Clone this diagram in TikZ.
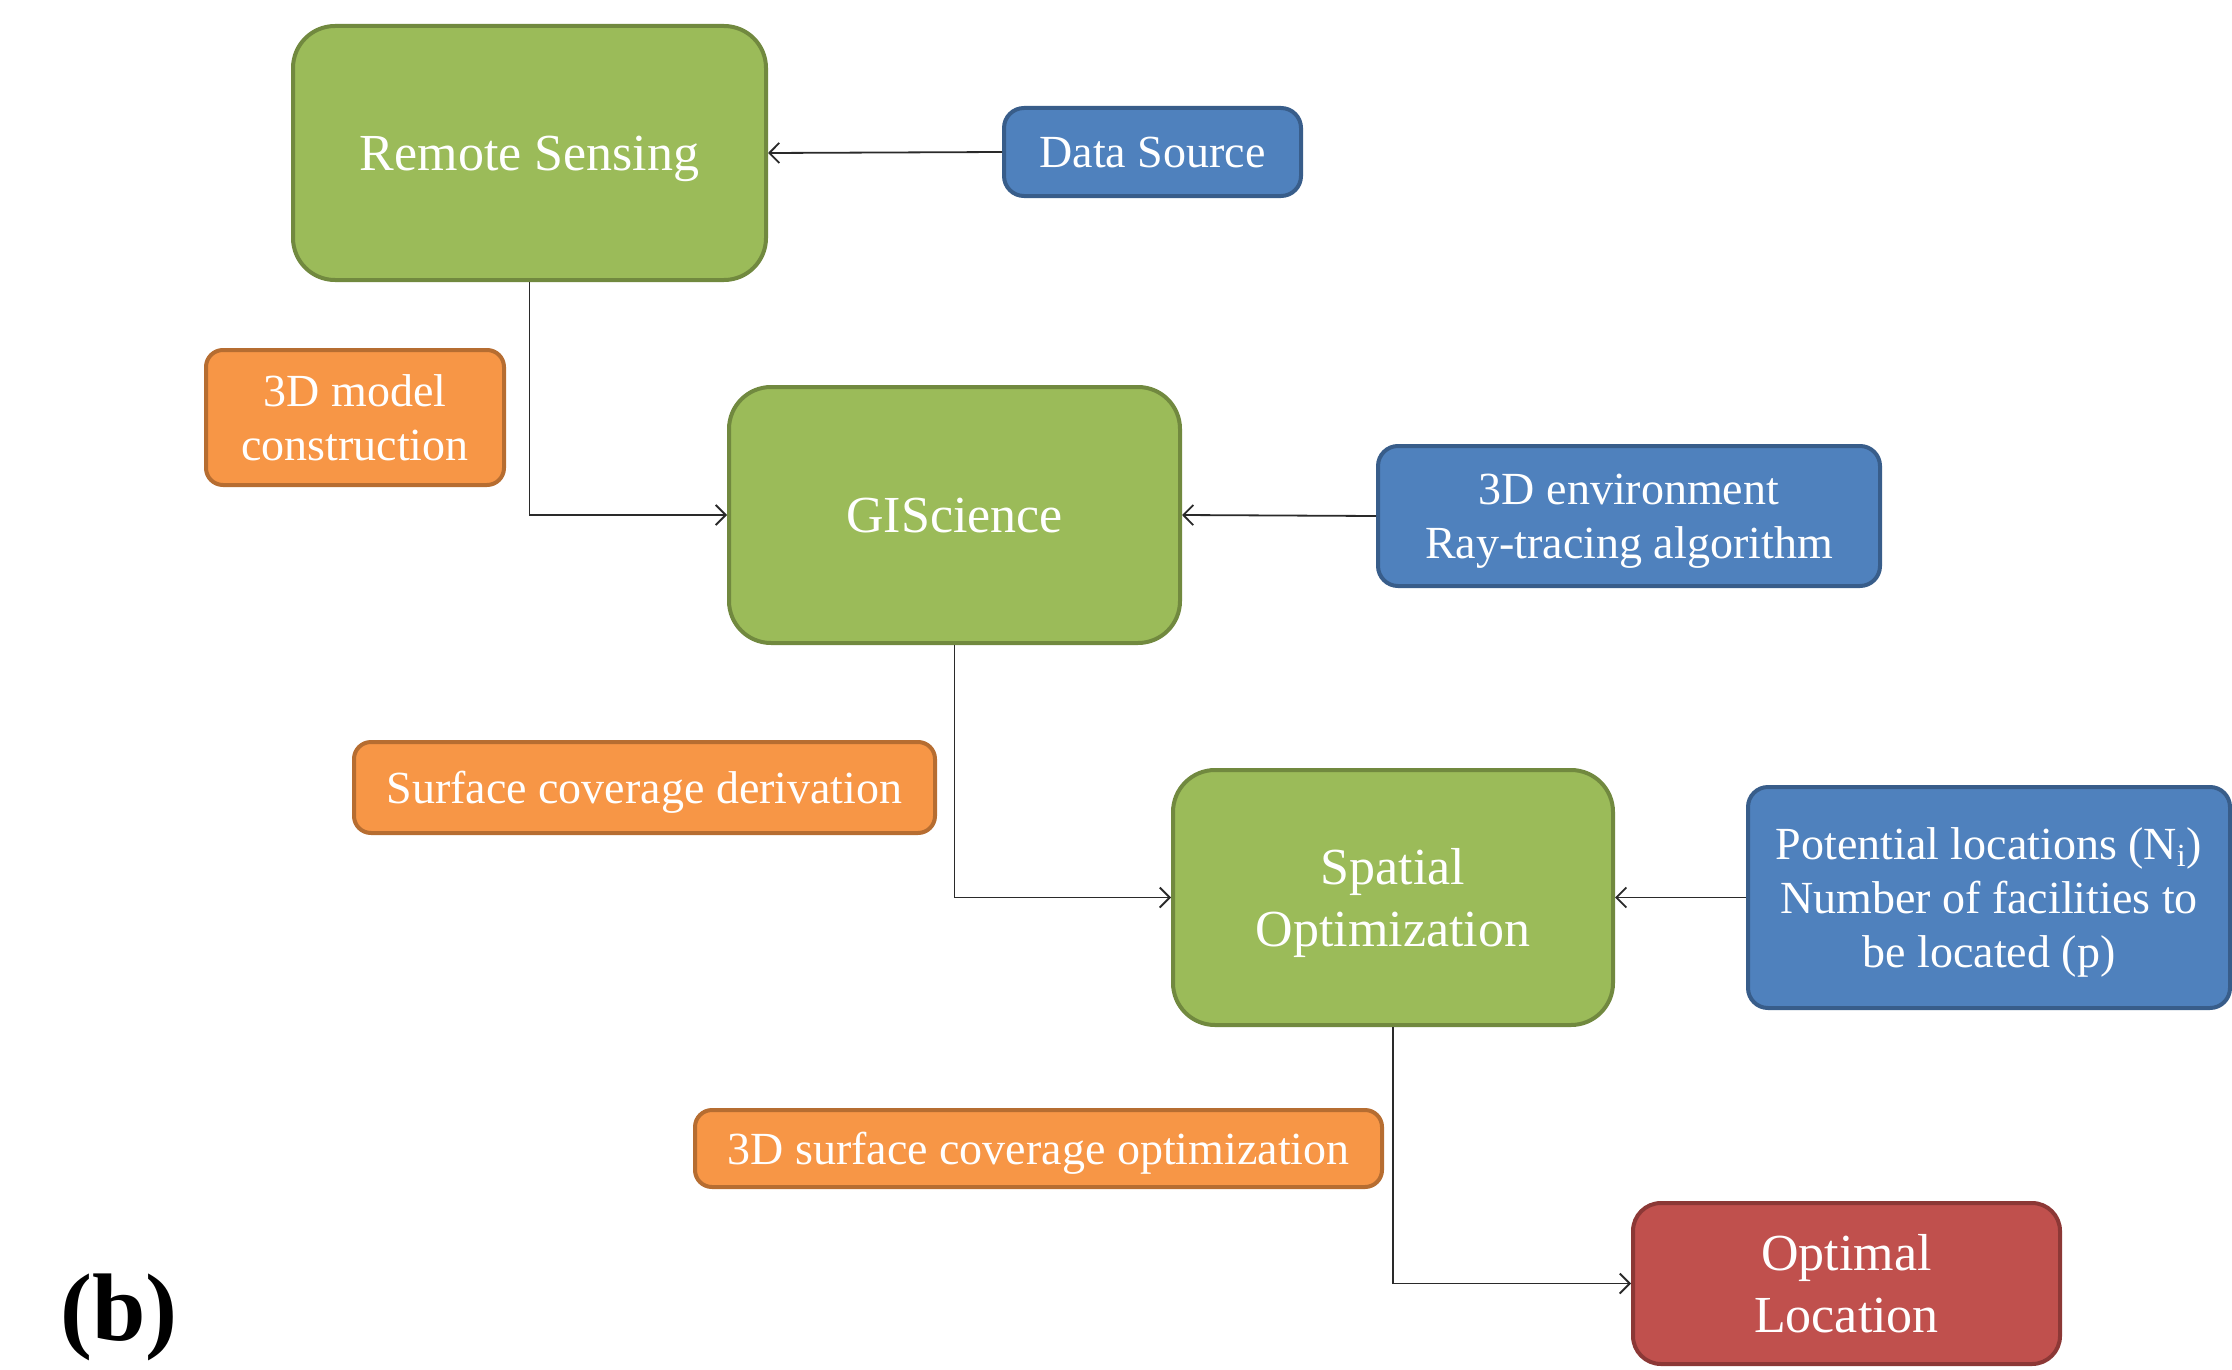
\documentclass[tikz,border=0pt]{standalone}
\usepackage{fontspec}
\setmainfont{Liberation Serif}
\usetikzlibrary{arrows.meta}
\definecolor{gfill}{HTML}{9BBB59}
\definecolor{gdraw}{HTML}{71893F}
\definecolor{bfill}{HTML}{4F81BD}
\definecolor{bdraw}{HTML}{385D8A}
\definecolor{ofill}{HTML}{F79646}
\definecolor{odraw}{HTML}{B66D31}
\definecolor{rfill}{HTML}{C0504D}
\definecolor{rdraw}{HTML}{8C3836}
\definecolor{conn}{HTML}{2A2A2A}
\tikzset{
  box/.style={rectangle, inner sep=0pt, line width=2pt, align=center, text=white, text depth=0pt},
  greenbox/.style={box, fill=gfill, draw=gdraw, rounded corners=21pt, font=\fontsize{26}{31}\selectfont},
  bluebox/.style={box, fill=bfill, draw=bdraw, rounded corners=10pt, font=\fontsize{23}{27}\selectfont},
  orangebox/.style={box, fill=ofill, draw=odraw, rounded corners=8.5pt, font=\fontsize{23}{27}\selectfont},
  redbox/.style={box, fill=rfill, draw=rdraw, rounded corners=14pt, font=\fontsize{26}{31}\selectfont},
  link/.style={draw=conn, line width=0.9pt, -{Straight Barb[length=5pt,width=10pt]}}
}
\begin{document}
\begin{tikzpicture}[x=0.5pt,y=-0.5pt]
\useasboundingbox (0,0) rectangle (2232,1370);
\node[greenbox, minimum width=236.5pt, minimum height=127pt] (rs) at (529.5,153) {Remote Sensing};
\node[bluebox, minimum width=148.5pt, minimum height=44pt] (ds) at (1152.5,152) {Data Source};
\node[orangebox, minimum width=149pt, minimum height=67.5pt] (mc) at (355,417.5) {3D model\\construction};
\node[greenbox, minimum width=225.5pt, minimum height=128pt] (gis) at (954.5,515) {GIScience};
\node[bluebox, minimum width=251pt, minimum height=70pt] (env) at (1629,516) {3D environment\\Ray-tracing algorithm};
\node[orangebox, minimum width=290.5pt, minimum height=45.5pt] (scd) at (644.5,787.5) {Surface coverage derivation};
\node[greenbox, minimum width=220pt, minimum height=127.5pt] (so) at (1393,897.5) {Spatial\\Optimization};
\node[bluebox, minimum width=241pt, minimum height=110.5pt] (pl) at (1989,897.5) {Potential locations (N\textsubscript{i})\\Number of facilities to\\be located (p)};
\node[orangebox, minimum width=343.5pt, minimum height=38.5pt] (sco) at (1038.5,1148.5) {3D surface coverage optimization};
\node[redbox, minimum width=213.5pt, minimum height=80.5pt] (ol) at (1846.5,1283.5) {Optimal\\Location};
\node[font=\fontsize{48}{52}\selectfont\bfseries, inner sep=0pt] (lbl) at (119,1317) {(b)};
\draw[link] (ds.west) -- (rs.east);
\draw[link] (rs.south) |- (gis.west);
\draw[link] (env.west) -- (gis.east);
\draw[link] (gis.south) |- (so.west);
\draw[link] (pl.west) -- (so.east);
\draw[link] (so.south) |- (ol.west);
\end{tikzpicture}
\end{document}
